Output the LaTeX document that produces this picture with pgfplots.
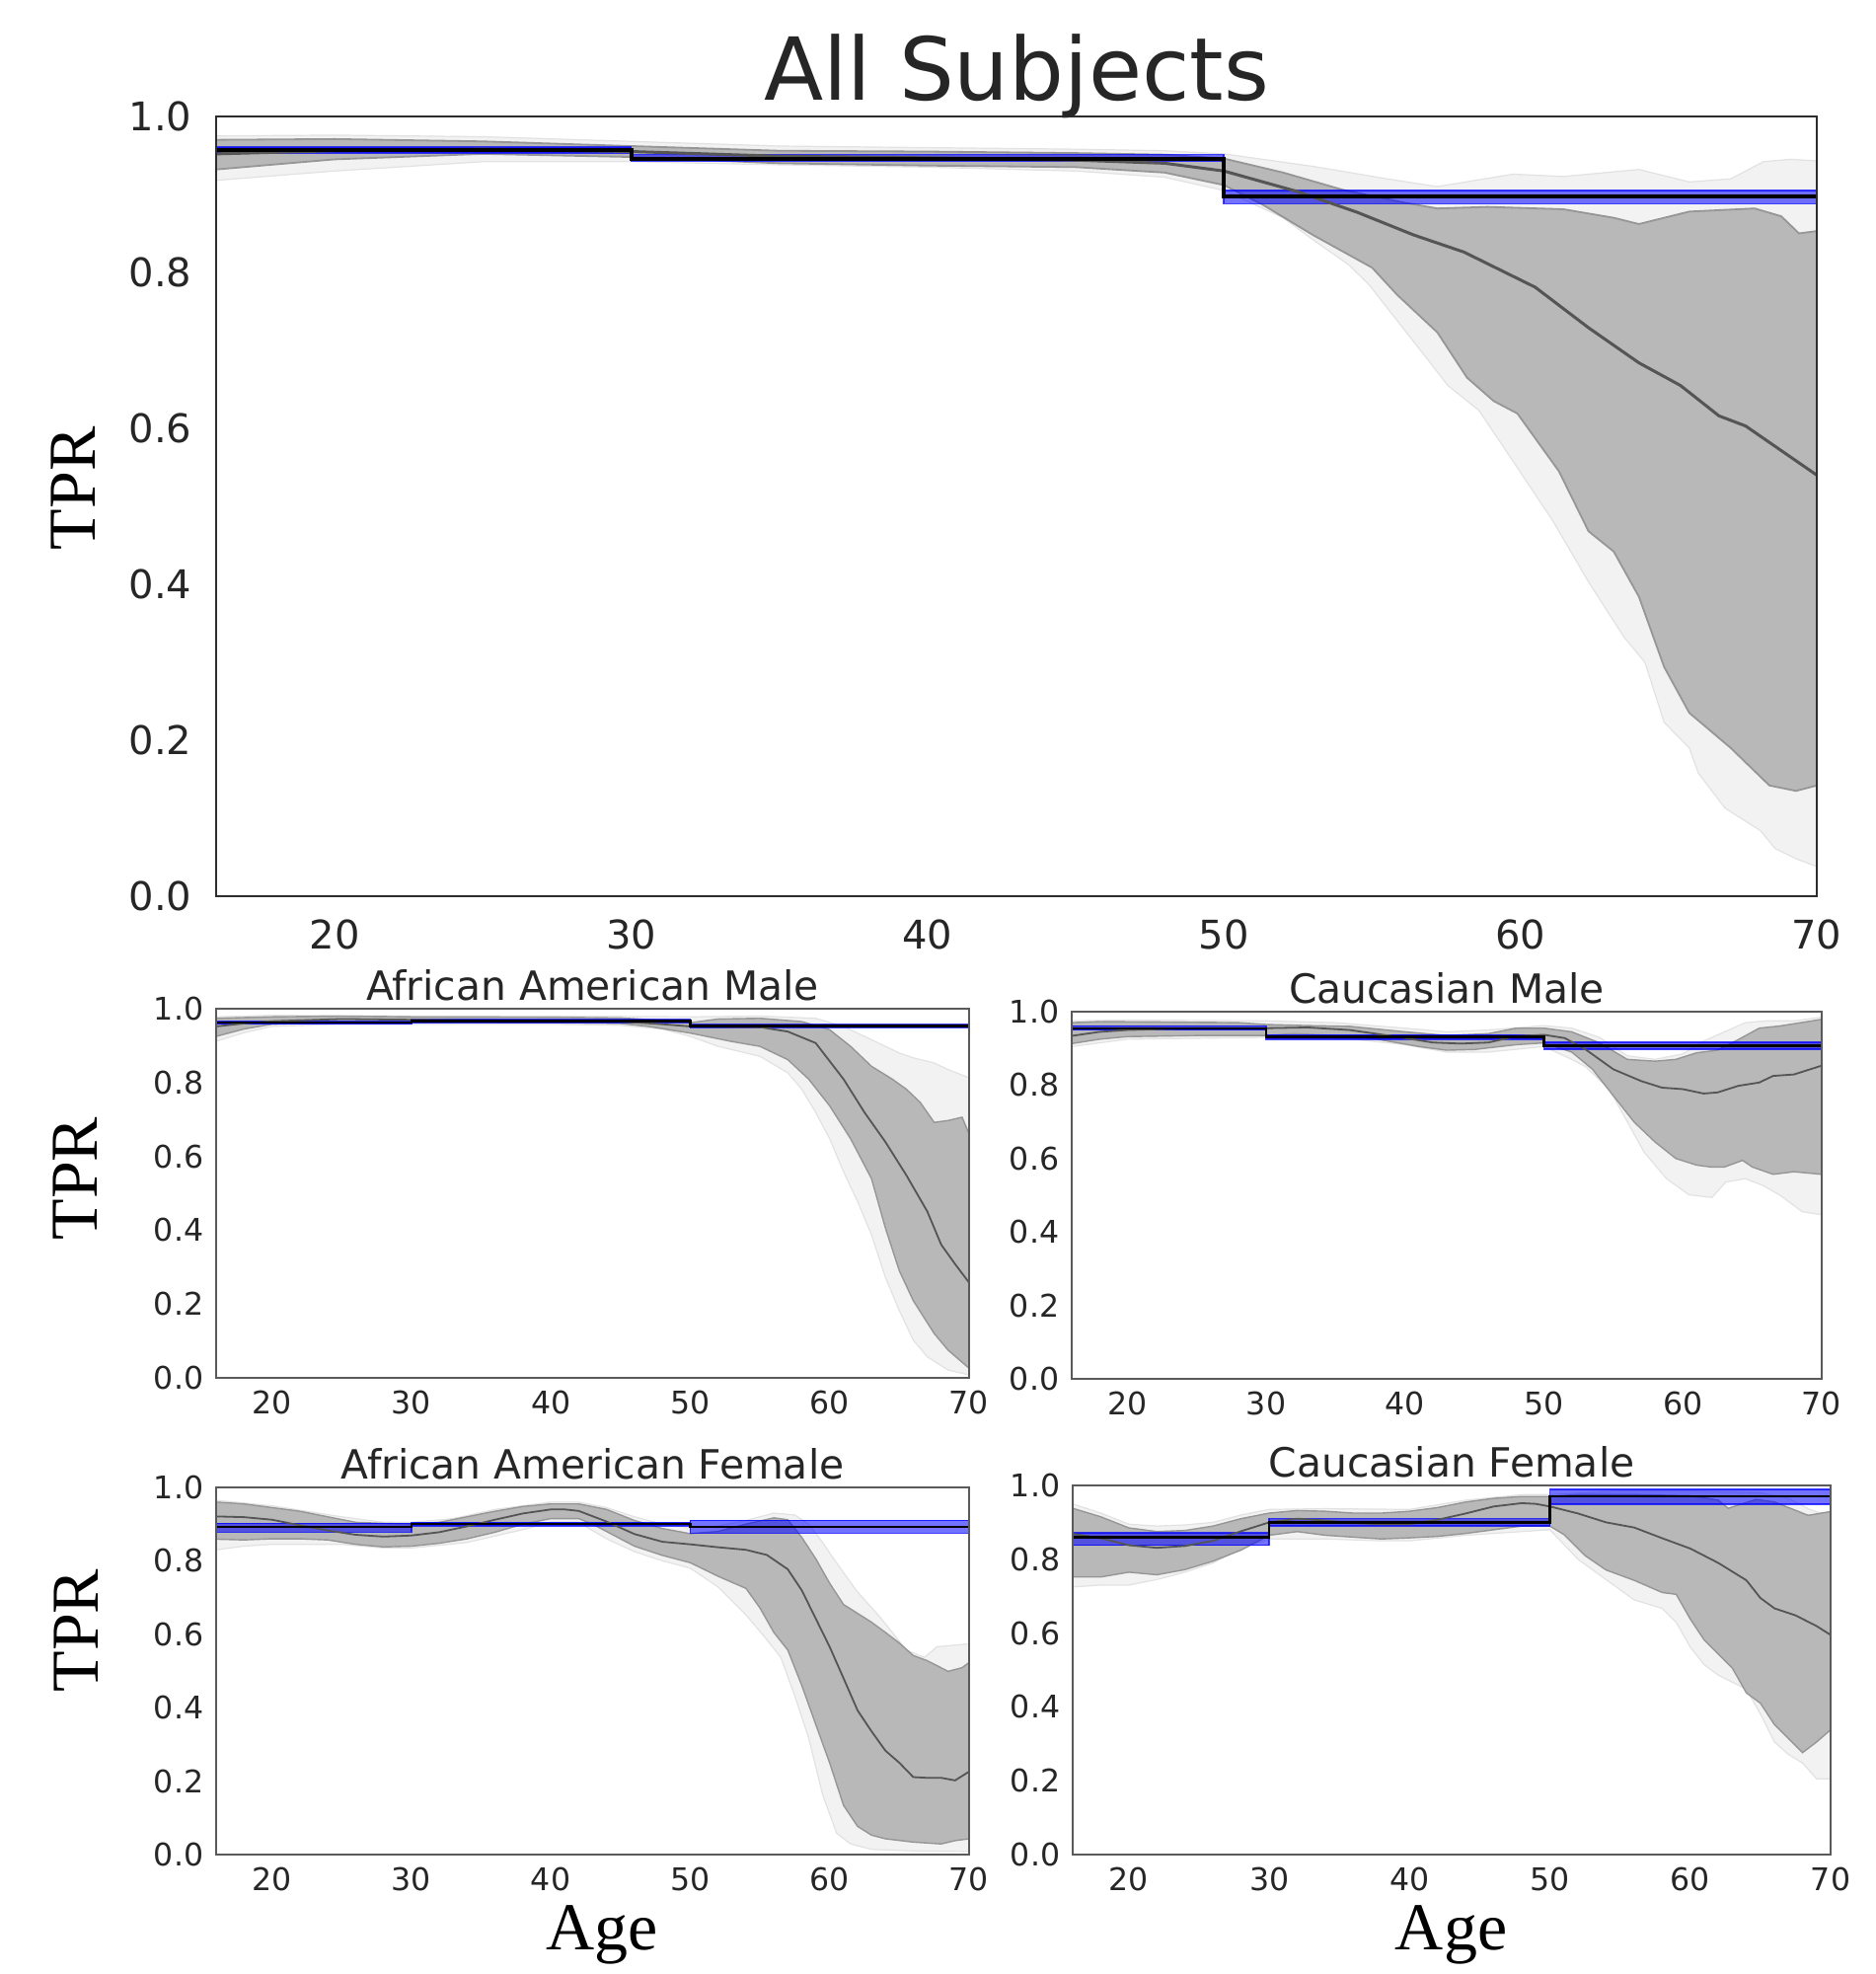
\documentclass[border=0pt]{standalone}
\usepackage{fontspec}
\setmainfont{DejaVu Sans}
\newfontfamily\serif{Liberation Serif}
\usepackage{pgfplots}
\pgfplotsset{compat=1.18}
\definecolor{lightband}{RGB}{242,242,242}
\definecolor{lightedge}{RGB}{226,226,226}
\definecolor{darkband}{RGB}{184,184,184}
\definecolor{darkedge}{RGB}{150,150,150}
\definecolor{meanline}{RGB}{85,85,85}
\definecolor{tickgray}{RGB}{38,38,38}
\definecolor{framedark}{RGB}{45,45,45}
\definecolor{framegray}{RGB}{90,90,90}
\pgfplotsset{
  common/.style={scale only axis, anchor=south west, xmin=16, xmax=70, ymin=0, ymax=1,
    xtick={20,30,40,50,60,70}, ytick={0,0.2,0.4,0.6,0.8,1.0},
    yticklabel style={/pgf/number format/.cd, fixed, fixed zerofill, precision=1},
    /pgf/number format/assume math mode=true,
    tick style={draw=none}, axis on top, no markers,
    ticklabel style={color=tickgray, inner sep=0pt}},
  big/.style={common, axis line style={draw=framedark, line width=0.5pt},
    tick label style={font=\fontsize{10}{12}\selectfont},
    xticklabel shift=5.75pt, yticklabel shift=6pt,
    title style={font=\fontsize{22}{26}\selectfont, color=tickgray, at={(0.5,1)}, anchor=base, yshift=-1.8pt, inner sep=0pt},
    ylabel style={font=\serif\fontsize{17}{20}\selectfont, anchor=center, inner sep=0pt}},
  small/.style={common, axis line style={draw=framegray, line width=0.5pt},
    tick label style={font=\fontsize{7.9}{9}\selectfont},
    xticklabel shift=3pt, yticklabel shift=3pt,
    title style={font=\fontsize{10.2}{12}\selectfont, color=tickgray, at={(0.5,1)}, anchor=base, yshift=-3.9pt, inner sep=0pt},
    ylabel style={font=\serif\fontsize{17}{20}\selectfont, anchor=center, inner sep=0pt},
    xlabel style={font=\serif\fontsize{17}{20}\selectfont, anchor=base, inner sep=0pt, yshift=-24pt}},
  lightb/.style={fill=lightband, draw=lightedge, line width=0.3pt},
  darkb/.style={fill=darkband, draw=darkedge, line width=0.35pt},
  blueb/.style={fill=blue, fill opacity=0.55, draw=blue, draw opacity=0.75, line width=0.4pt},
}
\begin{document}
\begin{tikzpicture}
\useasboundingbox (0,0) rectangle (475pt,500pt);

% ---------------- All Subjects ----------------
\begin{axis}[big, at={(54.75pt,273pt)}, width=405.5pt, height=197.5pt,
  title={All Subjects}, ylabel={TPR},
  ylabel style={at={(axis description cs:-0.0894,0.5228)}}]
\addplot[lightb] coordinates {(16,0.975) (20,0.976) (25,0.974) (30,0.968) (35,0.962) (40,0.960) (45,0.958) (48,0.956) (50,0.952) (53,0.936) (55.5,0.92) (57.2,0.91) (59.75,0.926) (61.45,0.923) (64,0.932) (65.7,0.916) (67.1,0.92) (68.2,0.942) (69.1,0.945) (70,0.943)
 (70,0.038) (69.3,0.048) (68.6,0.061) (68.1,0.084) (66.9,0.113) (66.0,0.158) (65.7,0.19) (64.85,0.223) (64.2,0.300) (63.5,0.332) (62.3,0.403) (61.1,0.481) (59.75,0.558) (58.6,0.623) (57.55,0.655) (56.9,0.687) (55.7,0.745) (54.9,0.784) (54.2,0.81) (53,0.842) (52,0.87) (50,0.905) (48,0.922) (45,0.93) (40,0.935) (35,0.938) (30,0.942) (25,0.942) (20,0.93) (16,0.918)} -- cycle;
\addplot[darkb, line width=0.45pt] coordinates {(16,0.970) (20,0.971) (25,0.968) (30,0.962) (35,0.956) (40,0.955) (45,0.953) (48,0.951) (50,0.946) (52,0.928) (54,0.906) (56,0.89) (57.2,0.882) (58.9,0.884) (61.45,0.881) (63.15,0.87) (64,0.862) (65.7,0.878) (67.9,0.882) (68.8,0.872) (69.4,0.850) (70,0.853)
 (70,0.142) (69.3,0.135) (68.4,0.142) (67.1,0.19) (65.7,0.235) (64.85,0.294) (64.0,0.384) (63.15,0.442) (62.3,0.468) (61.3,0.545) (59.9,0.619) (59.1,0.635) (58.2,0.665) (57.2,0.723) (55.85,0.771) (55.0,0.806) (53.0,0.848) (51.3,0.887) (50,0.912) (48,0.928) (45,0.935) (40,0.937) (35,0.94) (30,0.948) (25,0.952) (20,0.945) (16,0.932)} -- cycle;
\addplot[blueb] coordinates {(16,0.953) (30,0.953) (30,0.961) (16,0.961)} -- cycle;
\addplot[blueb] coordinates {(30,0.943) (50,0.943) (50,0.951) (30,0.951)} -- cycle;
\addplot[blueb] coordinates {(50,0.888) (70,0.888) (70,0.905) (50,0.905)} -- cycle;
\addplot[meanline, line width=0.75pt] coordinates {(16,0.952) (20,0.956) (25,0.958) (30,0.955) (35,0.949) (40,0.947) (45,0.944) (48,0.940) (50,0.930) (52.45,0.904) (54.5,0.877) (56.4,0.848) (58.1,0.826) (60.5,0.781) (62.3,0.729) (64.0,0.684) (65.4,0.655) (66.7,0.616) (67.6,0.603) (70,0.54)};
\addplot[const plot, black, line width=1pt] coordinates {(16,0.957) (30,0.946) (50,0.897) (70,0.897)};
\end{axis}

% ---------------- African American Male ----------------
\begin{axis}[small, at={(54.75pt,151pt)}, width=190.75pt, height=93.5pt,
  title={African American Male}, ylabel={TPR},
  ylabel style={at={(axis description cs:-0.1874,0.540)}}]
\addplot[lightb] coordinates {(16,0.978) (20,0.982) (30,0.98) (40,0.98) (50,0.978) (55,0.98) (59,0.974) (61,0.952) (62.5,0.925) (64,0.898) (65,0.88) (66,0.867) (67.5,0.853) (68.5,0.835) (70,0.813)
 (70,0.008) (68.5,0.021) (67,0.057) (66,0.102) (65,0.182) (64,0.272) (63,0.388) (62,0.478) (61,0.558) (60,0.648) (59,0.719) (58,0.782) (57,0.826) (55,0.871) (52,0.898) (50,0.925) (48,0.945) (45,0.955) (40,0.958) (30,0.958) (25,0.958) (20,0.952) (18,0.935) (16,0.912)} -- cycle;
\addplot[darkb] coordinates {(16,0.974) (20,0.978) (25,0.98) (30,0.978) (40,0.977) (45,0.975) (48,0.968) (50,0.962) (52,0.972) (55,0.974) (58,0.965) (60,0.943) (61.5,0.898) (63,0.844) (64.5,0.809) (65.5,0.782) (66.5,0.746) (67.5,0.692) (68.5,0.697) (69.5,0.706) (70,0.661)
 (70,0.026) (68.5,0.075) (67.5,0.12) (66,0.209) (65,0.29) (64,0.406) (63,0.54) (61.5,0.648) (60,0.737) (58.5,0.809) (57,0.862) (55,0.898) (53,0.911) (50,0.934) (47,0.952) (45,0.96) (40,0.962) (30,0.963) (25,0.963) (20,0.958) (18,0.945) (16,0.925)} -- cycle;
\addplot[blueb] coordinates {(16,0.958) (30,0.958) (30,0.966) (16,0.966)} -- cycle;
\addplot[blueb] coordinates {(30,0.963) (50,0.963) (50,0.970) (30,0.970)} -- cycle;
\addplot[blueb] coordinates {(50,0.949) (70,0.949) (70,0.957) (50,0.957)} -- cycle;
\addplot[meanline, line width=0.45pt] coordinates {(16,0.952) (18,0.96) (20,0.966) (25,0.972) (30,0.97) (35,0.968) (40,0.968) (45,0.965) (48,0.958) (50,0.952) (55,0.95) (57,0.938) (59,0.907) (61,0.809) (62.5,0.719) (64,0.639) (65.5,0.549) (67,0.451) (68,0.361) (69,0.308) (70,0.258)};
\addplot[const plot, black, line width=0.6pt] coordinates {(16,0.963) (30,0.966) (50,0.953) (70,0.953)};
\end{axis}

% ---------------- Caucasian Male ----------------
\begin{axis}[small, at={(271.5pt,150.75pt)}, width=190pt, height=93pt,
  title={Caucasian Male}]
\addplot[lightb] coordinates {(16,0.975) (20,0.977) (30,0.975) (35,0.97) (40,0.955) (43,0.945) (46,0.95) (50,0.962) (52,0.955) (54,0.93) (56,0.88) (58,0.87) (60,0.885) (61.5,0.92) (63,0.945) (64.5,0.97) (66,0.975) (68,0.975) (70,0.985)
 (70,0.447) (68.6,0.455) (67,0.5) (65.75,0.527) (64.5,0.545) (63.1,0.536) (62.1,0.494) (60.45,0.501) (58.8,0.546) (57.2,0.618) (54.7,0.789) (53,0.85) (52,0.87) (50,0.905) (46,0.89) (43,0.89) (40,0.91) (35,0.93) (30,0.93) (20,0.925) (16,0.905)} -- cycle;
\addplot[darkb] coordinates {(16,0.970) (18,0.973) (22,0.972) (28,0.97) (30,0.965) (33,0.962) (36,0.96) (40,0.945) (43,0.935) (46,0.94) (48,0.955) (50,0.955) (52,0.945) (54,0.915) (56,0.87) (58,0.865) (59.5,0.87) (61,0.888) (62.5,0.895) (64,0.924) (65.5,0.955) (67,0.961) (68.5,0.97) (70,0.979)
 (70,0.557) (68,0.564) (66.5,0.557) (65,0.577) (64.3,0.595) (63,0.577) (62,0.577) (61,0.582) (59.5,0.6) (58,0.645) (56.5,0.699) (55,0.771) (53.5,0.843) (52,0.89) (50,0.915) (48,0.91) (45,0.897) (43,0.895) (41,0.905) (38,0.925) (35,0.935) (32,0.94) (30,0.935) (25,0.935) (20,0.932) (18,0.925) (16,0.913)} -- cycle;
\addplot[blueb] coordinates {(16,0.950) (30,0.950) (30,0.961) (16,0.961)} -- cycle;
\addplot[blueb] coordinates {(30,0.924) (50,0.924) (50,0.937) (30,0.937)} -- cycle;
\addplot[blueb] coordinates {(50,0.898) (70,0.898) (70,0.917) (50,0.917)} -- cycle;
\addplot[meanline, line width=0.45pt] coordinates {(16,0.934) (18,0.945) (20,0.95) (25,0.955) (30,0.955) (33,0.957) (36,0.95) (39,0.934) (42,0.916) (44,0.913) (46,0.916) (48,0.933) (50,0.937) (51.5,0.928) (53,0.897) (55,0.843) (57,0.811) (58.5,0.793) (60,0.789) (61.5,0.777) (62.5,0.78) (64,0.798) (65.5,0.807) (66.5,0.825) (68,0.829) (70,0.853)};
\addplot[const plot, black, line width=0.6pt] coordinates {(16,0.955) (30,0.931) (50,0.907) (70,0.907)};
\end{axis}

% ---------------- African American Female ----------------
\begin{axis}[small, at={(54.75pt,30.25pt)}, width=190.75pt, height=93pt,
  title={African American Female}, ylabel={TPR}, xlabel={Age},
  ylabel style={at={(axis description cs:-0.186,0.610)}},
  xlabel style={at={(axis description cs:0.5125,0)}}]
\addplot[lightb] coordinates {(16,0.965) (20,0.95) (25,0.92) (28,0.905) (30,0.905) (33,0.915) (36,0.94) (40,0.96) (42,0.96) (44,0.945) (46,0.92) (48,0.9) (50,0.89) (52,0.895) (54,0.91) (56,0.93) (57.5,0.925) (58.5,0.9) (59.5,0.85) (60.1,0.816) (61.9,0.72) (63.7,0.643) (65.5,0.557) (66.8,0.537) (67.7,0.566) (70,0.574)
 (70,0.008) (66,0.01) (63,0.014) (61.5,0.029) (60.5,0.058) (59.5,0.163) (58.5,0.317) (57.5,0.432) (56.5,0.537) (55.5,0.585) (54,0.653) (52,0.729) (50,0.78) (48,0.8) (46,0.825) (44,0.86) (42,0.905) (40,0.905) (38,0.885) (34,0.85) (30,0.835) (28,0.835) (25,0.845) (20,0.845) (18,0.84) (16,0.83)} -- cycle;
\addplot[darkb] coordinates {(16,0.96) (18,0.955) (20,0.945) (22,0.935) (24,0.92) (26,0.905) (28,0.902) (30,0.9) (32,0.905) (34,0.92) (36,0.935) (38,0.948) (40,0.955) (42,0.955) (44,0.94) (46,0.91) (48,0.888) (50,0.874) (52,0.88) (54,0.9) (56,0.917) (57,0.912) (58,0.864) (59,0.806) (60,0.739) (61,0.681) (62,0.657) (63,0.633) (64,0.605) (65,0.576) (66,0.542) (67,0.528) (68.5,0.499) (69.5,0.509) (70,0.523)
 (70,0.043) (69,0.038) (68,0.029) (66,0.034) (64,0.043) (63,0.053) (62,0.077) (61,0.134) (60,0.25) (59,0.355) (58,0.461) (57,0.557) (56,0.605) (55,0.672) (54,0.725) (52,0.758) (50,0.795) (48,0.815) (46,0.84) (44.5,0.87) (43,0.9) (42,0.915) (40,0.915) (38,0.9) (36,0.878) (34,0.86) (32,0.848) (30,0.84) (28,0.838) (26,0.845) (24,0.857) (22,0.86) (20,0.86) (18,0.857) (16,0.859)} -- cycle;
\addplot[blueb] coordinates {(16,0.878) (30,0.878) (30,0.902) (16,0.902)} -- cycle;
\addplot[blueb] coordinates {(30,0.895) (50,0.895) (50,0.905) (30,0.905)} -- cycle;
\addplot[blueb] coordinates {(50,0.875) (70,0.875) (70,0.910) (50,0.910)} -- cycle;
\addplot[meanline, line width=0.45pt] coordinates {(16,0.921) (18,0.919) (20,0.912) (22,0.897) (24,0.883) (26,0.871) (28,0.866) (30,0.869) (32,0.878) (34,0.894) (36,0.912) (38,0.929) (40,0.94) (41,0.94) (42,0.936) (44,0.907) (46,0.873) (48,0.852) (50,0.845) (52,0.837) (54,0.83) (55.5,0.816) (57,0.777) (58,0.72) (59,0.643) (60,0.566) (61,0.48) (62,0.393) (63,0.336) (64,0.283) (65,0.25) (66,0.211) (67,0.209) (68,0.209) (69,0.202) (70,0.226)};
\addplot[const plot, black, line width=0.6pt] coordinates {(16,0.893) (30,0.9) (50,0.893) (70,0.893)};
\end{axis}

% ---------------- Caucasian Female ----------------
\begin{axis}[small, at={(271.75pt,30.25pt)}, width=192pt, height=93.5pt,
  title={Caucasian Female}, xlabel={Age},
  xlabel style={at={(axis description cs:0.4995,0)}}]
\addplot[lightb] coordinates {(16,0.95) (18,0.925) (20,0.895) (22,0.89) (24,0.893) (26,0.9) (28,0.92) (30,0.935) (34,0.937) (40,0.935) (44,0.96) (48,0.975) (50,0.975) (55,0.985) (60,0.985) (65,0.98) (67,0.965) (68.5,0.935) (69.3,0.925) (70,0.93)
 (70,0.205) (69,0.205) (68,0.248) (67,0.271) (66,0.305) (65,0.381) (64,0.448) (63,0.467) (62,0.486) (61,0.514) (60,0.562) (59,0.629) (58,0.667) (56,0.69) (54,0.745) (52,0.8) (50,0.88) (48,0.875) (44,0.865) (40,0.85) (38,0.85) (34,0.855) (30,0.855) (28,0.83) (26,0.79) (24,0.765) (22,0.745) (20,0.73) (18,0.73) (16,0.725)} -- cycle;
\addplot[darkb] coordinates {(16,0.938) (18,0.915) (20,0.885) (22,0.875) (24,0.878) (26,0.89) (28,0.91) (30,0.925) (32,0.932) (34,0.93) (36,0.925) (38,0.925) (40,0.93) (42,0.94) (44,0.955) (46,0.965) (48,0.97) (50,0.97) (52,0.975) (56,0.975) (60,0.972) (62,0.96) (62.7,0.938) (64.7,0.962) (66,0.955) (68.4,0.919) (70,0.929)
 (70,0.338) (69,0.305) (68,0.276) (67,0.314) (66,0.352) (65,0.41) (64,0.438) (63,0.505) (62,0.543) (61,0.581) (60,0.638) (59,0.705) (58,0.71) (56,0.743) (54,0.771) (52.5,0.81) (51,0.867) (50,0.89) (48,0.89) (46,0.88) (44,0.87) (42,0.862) (40,0.858) (38,0.855) (36,0.86) (34,0.865) (32,0.875) (30,0.865) (28,0.825) (26,0.795) (24,0.772) (22,0.758) (20,0.765) (18,0.752) (16,0.752)} -- cycle;
\addplot[blueb] coordinates {(16,0.838) (30,0.838) (30,0.871) (16,0.871)} -- cycle;
\addplot[blueb] coordinates {(30,0.890) (50,0.890) (50,0.910) (30,0.910)} -- cycle;
\addplot[blueb] coordinates {(50,0.949) (70,0.949) (70,0.989) (50,0.989)} -- cycle;
\addplot[meanline, line width=0.45pt] coordinates {(16,0.869) (18,0.857) (20,0.838) (22,0.831) (24,0.836) (26,0.85) (28,0.876) (30,0.9) (32,0.91) (34,0.905) (36,0.898) (38,0.895) (40,0.895) (42,0.907) (44,0.924) (46,0.943) (48,0.952) (49,0.95) (50,0.943) (52,0.924) (54,0.9) (56,0.886) (58,0.857) (60,0.829) (62,0.79) (64,0.743) (65,0.695) (66,0.667) (67.5,0.648) (69,0.619) (70,0.595)};
\addplot[const plot, black, line width=0.6pt] coordinates {(16,0.86) (30,0.9) (50,0.97) (70,0.97)};
\end{axis}
\end{tikzpicture}
\end{document}
